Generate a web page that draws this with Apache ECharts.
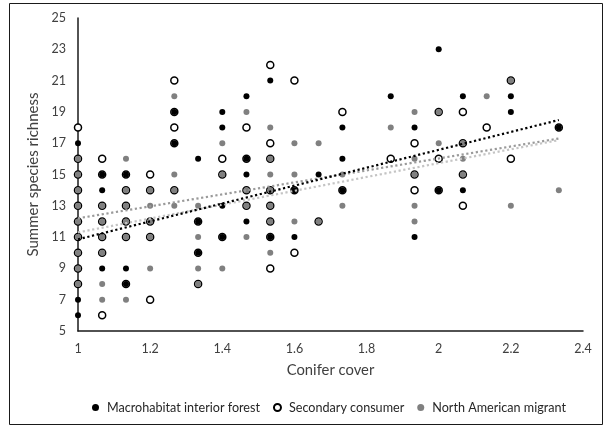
<!DOCTYPE html>
<html>
<head>
<meta charset="utf-8">
<script src="https://cdn.jsdelivr.net/npm/echarts@6/dist/echarts.min.js"></script>
<style>
  html, body { margin: 0; padding: 0; background: #fff; }
  #chart { width: 607px; height: 429px; }
</style>
</head>
<body>
<div id="chart"></div>
<script>
// Summer species richness against conifer cover, one list of [cover, richness] per guild
const macroPoints = [
  [1, 17], [1, 7], [1, 6],
  [1.067, 15], [1.067, 14], [1.067, 9],
  [1.133, 15], [1.133, 9], [1.133, 8],
  [1.267, 19], [1.267, 17],
  [1.333, 16], [1.333, 12], [1.333, 10],
  [1.4, 19], [1.4, 18], [1.4, 13], [1.4, 11],
  [1.467, 20], [1.467, 16], [1.467, 15], [1.467, 12],
  [1.533, 21], [1.533, 11],
  [1.6, 14], [1.6, 11],
  [1.667, 15],
  [1.733, 18], [1.733, 16], [1.733, 14],
  [1.867, 20],
  [1.933, 18], [1.933, 11],
  [2, 23], [2, 14],
  [2.067, 20], [2.067, 14],
  [2.2, 20], [2.2, 19],
  [2.333, 18]
];

const secondaryPoints = [
  [1, 18], [1, 16], [1, 15], [1, 14], [1, 13], [1, 12], [1, 11], [1, 10], [1, 9], [1, 8],
  [1.067, 16], [1.067, 15], [1.067, 13], [1.067, 12], [1.067, 11], [1.067, 10], [1.067, 6],
  [1.133, 15], [1.133, 14], [1.133, 13], [1.133, 12], [1.133, 11], [1.133, 8],
  [1.2, 15], [1.2, 14], [1.2, 12], [1.2, 11], [1.2, 7],
  [1.267, 21], [1.267, 19], [1.267, 18], [1.267, 17], [1.267, 14],
  [1.333, 12], [1.333, 10], [1.333, 8],
  [1.4, 16], [1.4, 15], [1.4, 11],
  [1.467, 18], [1.467, 16], [1.467, 14], [1.467, 13],
  [1.533, 22], [1.533, 17], [1.533, 16], [1.533, 14], [1.533, 13], [1.533, 12], [1.533, 11], [1.533, 9],
  [1.6, 21], [1.6, 14], [1.6, 10],
  [1.667, 12],
  [1.733, 19], [1.733, 14],
  [1.867, 16],
  [1.933, 17], [1.933, 15], [1.933, 14],
  [2, 19], [2, 16], [2, 14],
  [2.067, 19], [2.067, 17], [2.067, 15], [2.067, 13],
  [2.133, 18],
  [2.2, 21], [2.2, 16],
  [2.333, 18]
];

const migrantPoints = [
  [1, 16], [1, 15], [1, 14], [1, 13], [1, 12], [1, 11], [1, 10], [1, 9], [1, 8],
  [1.067, 13], [1.067, 12], [1.067, 11], [1.067, 10], [1.067, 8], [1.067, 7],
  [1.133, 16], [1.133, 14], [1.133, 13], [1.133, 12], [1.133, 11], [1.133, 7],
  [1.2, 14], [1.2, 13], [1.2, 12], [1.2, 11], [1.2, 9],
  [1.267, 20], [1.267, 15], [1.267, 14], [1.267, 13],
  [1.333, 13], [1.333, 11], [1.333, 9], [1.333, 8],
  [1.4, 17], [1.4, 15], [1.4, 9],
  [1.467, 19], [1.467, 14], [1.467, 13], [1.467, 11],
  [1.533, 18], [1.533, 16], [1.533, 15], [1.533, 14], [1.533, 13], [1.533, 12], [1.533, 10],
  [1.6, 17], [1.6, 15], [1.6, 12],
  [1.667, 17], [1.667, 12],
  [1.733, 15], [1.733, 13],
  [1.867, 18],
  [1.933, 19], [1.933, 16], [1.933, 15], [1.933, 13], [1.933, 12],
  [2, 19], [2, 17],
  [2.067, 17], [2.067, 16], [2.067, 15],
  [2.133, 20],
  [2.2, 21], [2.2, 13],
  [2.333, 14]
];

// Linear trend lines, end points over the observed cover range
const macroTrend = [[1, 10.86], [2.333, 18.48]];
const secondaryTrend = [[1, 11.3], [2.333, 17.2]];
const migrantTrend = [[1, 12.2], [2.333, 17.3]];

// Axis ticks
const xTicks = [1, 1.2, 1.4, 1.6, 1.8, 2, 2.2, 2.4];
const yTicks = [5, 7, 9, 11, 13, 15, 17, 19, 21, 23, 25];

const seriesNames = ['Macrohabitat interior forest', 'Secondary consumer', 'North American migrant'];

const FONT = 'Lato, "Open Sans", sans-serif';
const chart = echarts.init(document.getElementById('chart'), null, { renderer: 'canvas' });

const dotted = (color) => ({ color: color, width: 2.2, type: [2.2, 2.6], cap: 'butt' });

chart.setOption({
  animation: false,
  backgroundColor: '#ffffff',
  textStyle: { fontFamily: FONT },
  grid: { left: 78, right: 24, top: 18, bottom: 98, containLabel: false },
  graphic: [{
    type: 'rect',
    shape: { x: 9.5, y: 3.5, width: 593, height: 421 },
    style: { fill: 'none', stroke: '#1a1a1a', lineWidth: 1 },
    silent: true
  }],
  legend: {
    data: seriesNames.map(n => ({ name: n, icon: 'circle' })),
    left: 87,
    top: 396,
    itemWidth: 7,
    itemHeight: 7,
    itemGap: 13,
    textStyle: { fontFamily: FONT, fontSize: 12.6, color: '#262626', padding: [0, 0, 0, 3] }
  },
  xAxis: {
    type: 'value',
    min: 1,
    max: 2.4,
    interval: 0.2,
    name: 'Conifer cover',
    nameLocation: 'middle',
    nameGap: 32,
    nameTextStyle: { fontFamily: FONT, fontSize: 14.8, color: '#404040' },
    axisLine: { show: true, onZero: false, lineStyle: { color: '#1a1a1a', width: 1.5 } },
    axisTick: { show: false },
    splitLine: { show: false },
    axisLabel: {
      customValues: xTicks,
      fontFamily: FONT, fontSize: 12.5, color: '#404040', margin: 11,
      formatter: v => String(v)
    }
  },
  yAxis: {
    type: 'value',
    min: 5,
    max: 25,
    name: 'Summer species richness',
    nameLocation: 'middle',
    nameGap: 28,
    nameTextStyle: { fontFamily: FONT, fontSize: 15, color: '#404040' },
    axisLine: { show: true, onZero: false, lineStyle: { color: '#1a1a1a', width: 1.5 } },
    axisTick: { show: false },
    splitLine: { show: false },
    axisLabel: {
      customValues: yTicks,
      fontFamily: FONT, fontSize: 12.5, color: '#404040', margin: 12
    }
  },
  series: [
    {
      name: seriesNames[1],
      type: 'scatter',
      data: secondaryPoints,
      symbol: 'circle',
      symbolSize: 7,
      itemStyle: { color: '#ffffff', borderColor: '#000000', borderWidth: 1.5, opacity: 1 },
      z: 2
    },
    {
      name: seriesNames[0],
      type: 'scatter',
      data: macroPoints,
      symbol: 'circle',
      symbolSize: 6,
      itemStyle: { color: '#000000', opacity: 1 },
      z: 3
    },
    {
      name: seriesNames[2],
      type: 'scatter',
      data: migrantPoints,
      symbol: 'circle',
      symbolSize: 6,
      itemStyle: { color: '#808080', opacity: 1 },
      z: 4
    },
    {
      name: 'macro-trend',
      type: 'line',
      data: macroTrend,
      showSymbol: false,
      symbol: 'none',
      lineStyle: dotted('#000000'),
      z: 6,
      silent: true
    },
    {
      name: 'secondary-trend',
      type: 'line',
      data: secondaryTrend,
      showSymbol: false,
      symbol: 'none',
      lineStyle: dotted('#c4c4c4'),
      z: 5,
      silent: true
    },
    {
      name: 'migrant-trend',
      type: 'line',
      data: migrantTrend,
      showSymbol: false,
      symbol: 'none',
      lineStyle: dotted('#9a9a9a'),
      z: 5,
      silent: true
    }
  ]
});
</script>
</body>
</html>
